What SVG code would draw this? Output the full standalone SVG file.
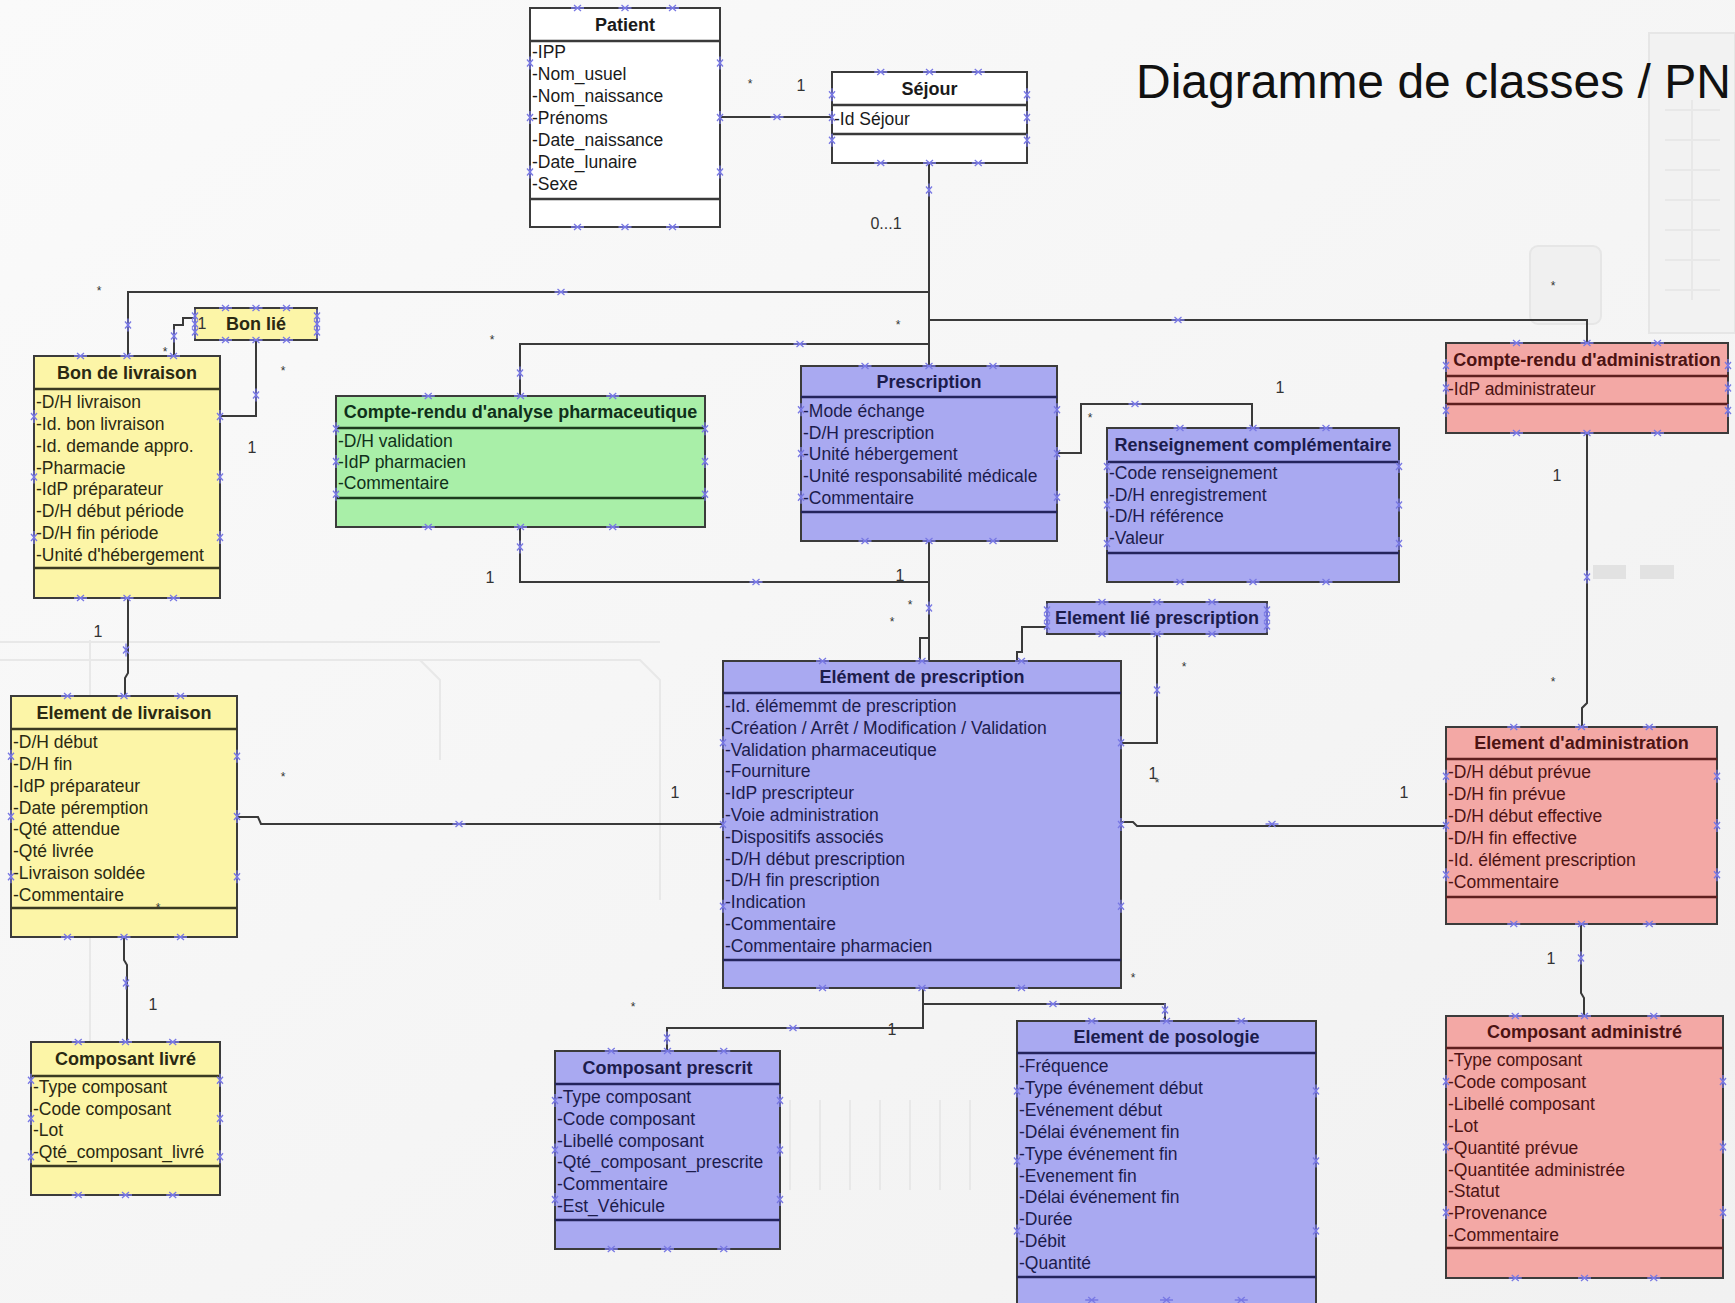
<svg xmlns="http://www.w3.org/2000/svg" width="1735" height="1303" viewBox="0 0 1735 1303">
<defs>
<style>
.bx{stroke:#3b3b3b;stroke-width:2}
.w{fill:#ffffff}.y{fill:#fcf5a7}.g{fill:#a9efa8}.b{fill:#a9a9f1}.r{fill:#f3a8a5}
.dv{stroke-width:2.5;fill:none}
.dw{stroke:#3a3a3a}.dy{stroke:#3a3a22}.dg{stroke:#1e3b1e}.db{stroke:#24245c}.dr{stroke:#5e1f1f}
.h{font-family:"Liberation Sans",Arial,sans-serif;font-size:18px;font-weight:bold;text-anchor:middle}
.a{font-family:"Liberation Sans",Arial,sans-serif;font-size:17.5px}
.tw{fill:#1a1a1a}.ty{fill:#2a2912}.tg{fill:#10301a}.tb{fill:#1c1c4c}.tr{fill:#4c1313}
.hh{fill:none;stroke:none;marker-start:url(#hx);marker-mid:url(#hx);marker-end:url(#hx)}
.vv{fill:none;stroke:none;marker-start:url(#vx);marker-mid:url(#vx);marker-end:url(#vx)}
.cn{fill:none;stroke:#3a3a3a;stroke-width:2}
.m{font-family:"Liberation Sans",Arial,sans-serif;font-size:16px;fill:#333;text-anchor:middle}
.s{font-family:"Liberation Sans",Arial,sans-serif;font-size:12px;fill:#333;text-anchor:middle}
.deco{fill:none;stroke:#e8e8e8;stroke-width:2}
</style>
<linearGradient id="bg" x1="0" y1="0" x2="1" y2="1">
<stop offset="0" stop-color="#fafafa"/>
<stop offset="1" stop-color="#f1f1f1"/>
</linearGradient>
<marker id="hx" markerWidth="14" markerHeight="10" refX="7" refY="5" orient="0" markerUnits="userSpaceOnUse" viewBox="0 0 14 10"><path d="M3.5,2 L10.5,8 M3.5,8 L10.5,2 M0.5,5 H13.5" stroke="#7878e4" stroke-width="1.3" fill="none"/></marker>
<marker id="vx" markerWidth="14" markerHeight="10" refX="7" refY="5" orient="90" markerUnits="userSpaceOnUse" viewBox="0 0 14 10"><path d="M3.5,2 L10.5,8 M3.5,8 L10.5,2 M0.5,5 H13.5" stroke="#7878e4" stroke-width="1.3" fill="none"/></marker>
</defs>

<g id="background">
<rect width="1735" height="1303" fill="url(#bg)"/>
<path class="deco" d="M0,642 H660 M0,660 H640 L660,680 V900 M90,640 V1100 M230,660 H420 L440,680 V760"/>
<path class="deco" d="M760,1100 V1190 M790,1100 V1190 M820,1100 V1190 M850,1100 V1190 M880,1100 V1190 M910,1100 V1190 M940,1100 V1190 M970,1100 V1190"/>
<rect x="1649" y="33" width="86" height="300" fill="#f2f2f2" stroke="#e6e6e6" stroke-width="2"/>
<path d="M1665,110 H1720 M1665,140 H1720 M1665,170 H1720 M1665,200 H1720 M1665,230 H1720 M1665,260 H1720 M1665,290 H1720 M1692,100 V300" stroke="#e8e8e8" stroke-width="2" fill="none"/>
<rect x="1530" y="246" width="71" height="78" rx="8" fill="#f0f0f0" stroke="#e6e6e6" stroke-width="2"/>
<rect x="1593" y="565" width="33" height="14" fill="#e2e2e2"/>
<rect x="1640" y="565" width="34" height="14" fill="#e2e2e2"/>
</g>

<text x="1136" y="98" font-family="Liberation Sans, Arial, sans-serif" font-size="48" fill="#111">Diagramme de classes / PN</text>

<g id="connectors">
<path class="cn" d="M720,117 H832"/>
<path class="cn" d="M929,163 V366"/>
<path class="cn" d="M929,292 H128 V356"/>
<path class="cn" d="M929,320 H1587 V343"/>
<path class="cn" d="M929,344 H520 V396"/>
<path class="cn" d="M174,356 V325 H183 V318 H195"/>
<path class="cn" d="M220,416 H256 V340"/>
<path class="cn" d="M128,598 V673 L125,678 V696"/>
<path class="cn" d="M124,937 V960 L127,965 V1042"/>
<path class="cn" d="M237,817 H258 L261,824 H723"/>
<path class="cn" d="M929,541 V661"/>
<path class="cn" d="M520,527 V582 H929 V638 H920 V661"/>
<path class="cn" d="M1057,453 H1081 V404 H1252 V428"/>
<path class="cn" d="M1017,661 V652 H1022 V627 H1047"/>
<path class="cn" d="M1157,634 V743 H1121"/>
<path class="cn" d="M1121,822 H1133 L1137,826 H1446"/>
<path class="cn" d="M1587,433 V703 L1582,708 V727"/>
<path class="cn" d="M1581,924 V993 L1584,998 V1016"/>
<path class="cn" d="M923,988 V1028 H667 V1051"/>
<path class="cn" d="M923,1004 H1165 V1021"/>
<polyline class="hh" points="777,117 561,292 1178,320 800,344 756,582 1135,404 459,824 1272,824 793,1028 1053,1004"/>
<polyline class="vv" points="929,190 128,325 520,373 520,547 929,608 126,650 126,983 1587,577 1581,958 667,1038 1165,1010 1157,690 174,336 256,395"/>
</g>

<g id="patient">
<rect class="bx w" x="530" y="8" width="190" height="219"/>
<path class="dv dw" d="M530,41H720M530,199H720"/>
<text class="h tw" x="625" y="30.5">Patient</text>
<text class="a tw"><tspan x="532" y="58">-IPP</tspan><tspan x="532" y="80">-Nom_usuel</tspan><tspan x="532" y="102">-Nom_naissance</tspan><tspan x="532" y="124">-Prénoms</tspan><tspan x="532" y="146">-Date_naissance</tspan><tspan x="532" y="168">-Date_lunaire</tspan><tspan x="532" y="190">-Sexe</tspan></text>
<polyline class="hh" points="577.5,8 625,8 672.5,8 577.5,227 625,227 672.5,227"/>
<polyline class="vv" points="530,63 530,117.5 530,172 720,63 720,117.5 720,172"/>
</g>

<g id="sejour">
<rect class="bx w" x="832" y="72" width="195" height="91"/>
<path class="dv dw" d="M832,105H1027M832,134H1027"/>
<text class="h tw" x="929.5" y="94.5">Séjour</text>
<text class="a tw"><tspan x="834" y="125">-Id Séjour</tspan></text>
<polyline class="hh" points="880.75,72 929.5,72 978.25,72 880.75,163 929.5,163 978.25,163"/>
<polyline class="vv" points="832,94.75 832,117.5 832,140.25 1027,94.75 1027,117.5 1027,140.25"/>
</g>

<g id="bon-lie">
<rect class="bx y" x="195" y="308" width="122" height="32"/>
<text class="h ty" x="256" y="330">Bon lié</text>
<polyline class="hh" points="225.5,308 256,308 286.5,308 225.5,340 256,340 286.5,340"/>
<polyline class="vv" points="195,316 195,324 195,332 317,316 317,324 317,332"/>
</g>

<g id="bon-de-livraison">
<rect class="bx y" x="34" y="356" width="186" height="242"/>
<path class="dv dy" d="M34,389H220M34,568H220"/>
<text class="h ty" x="127" y="378.5">Bon de livraison</text>
<text class="a ty"><tspan x="36" y="408">-D/H livraison</tspan><tspan x="36" y="430">-Id. bon livraison</tspan><tspan x="36" y="451.7">-Id. demande appro.</tspan><tspan x="36" y="473.6">-Pharmacie</tspan><tspan x="36" y="495.4">-IdP préparateur</tspan><tspan x="36" y="517.3">-D/H début période</tspan><tspan x="36" y="539.1">-D/H fin période</tspan><tspan x="36" y="561">-Unité d'hébergement</tspan></text>
<polyline class="hh" points="80.5,356 127,356 173.5,356 80.5,598 127,598 173.5,598"/>
<polyline class="vv" points="34,416.5 34,477 34,537.5 220,416.5 220,477 220,537.5"/>
</g>

<g id="cr-analyse">
<rect class="bx g" x="336" y="396" width="369" height="131"/>
<path class="dv dg" d="M336,428H705M336,498H705"/>
<text class="h tg" x="520.5" y="418">Compte-rendu d'analyse pharmaceutique</text>
<text class="a tg"><tspan x="338" y="447">-D/H validation</tspan><tspan x="338" y="468">-IdP pharmacien</tspan><tspan x="338" y="489">-Commentaire</tspan></text>
<polyline class="hh" points="428.25,396 520.5,396 612.75,396 428.25,527 520.5,527 612.75,527"/>
<polyline class="vv" points="336,428.75 336,461.5 336,494.25 705,428.75 705,461.5 705,494.25"/>
</g>

<g id="prescription">
<rect class="bx b" x="801" y="366" width="256" height="175"/>
<path class="dv db" d="M801,397H1057M801,512H1057"/>
<text class="h tb" x="929" y="387.5">Prescription</text>
<text class="a tb"><tspan x="803" y="417">-Mode échange</tspan><tspan x="803" y="438.5">-D/H prescription</tspan><tspan x="803" y="460">-Unité hébergement</tspan><tspan x="803" y="482">-Unité responsabilité médicale</tspan><tspan x="803" y="504">-Commentaire</tspan></text>
<polyline class="hh" points="865,366 929,366 993,366 865,541 929,541 993,541"/>
<polyline class="vv" points="801,409.75 801,453.5 801,497.25 1057,409.75 1057,453.5 1057,497.25"/>
</g>

<g id="renseignement">
<rect class="bx b" x="1107" y="428" width="292" height="154"/>
<path class="dv db" d="M1107,462H1399M1107,553H1399"/>
<text class="h tb" x="1253" y="451">Renseignement complémentaire</text>
<text class="a tb"><tspan x="1109" y="479">-Code renseignement</tspan><tspan x="1109" y="500.5">-D/H enregistrement</tspan><tspan x="1109" y="522">-D/H référence</tspan><tspan x="1109" y="544">-Valeur</tspan></text>
<polyline class="hh" points="1180,428 1253,428 1326,428 1180,582 1253,582 1326,582"/>
<polyline class="vv" points="1107,466.5 1107,505 1107,543.5 1399,466.5 1399,505 1399,543.5"/>
</g>

<g id="cr-administration">
<rect class="bx r" x="1446" y="343" width="282" height="90"/>
<path class="dv dr" d="M1446,376H1728M1446,404H1728"/>
<text class="h tr" x="1587" y="365.5">Compte-rendu d'administration</text>
<text class="a tr"><tspan x="1448" y="395">-IdP administrateur</tspan></text>
<polyline class="hh" points="1516.5,343 1587,343 1657.5,343 1516.5,433 1587,433 1657.5,433"/>
<polyline class="vv" points="1446,365.5 1446,388 1446,410.5 1728,365.5 1728,388 1728,410.5"/>
</g>

<g id="element-lie-prescription">
<rect class="bx b" x="1047" y="602" width="220" height="32"/>
<text class="h tb" x="1157" y="624">Element lié prescription</text>
<polyline class="hh" points="1102,602 1157,602 1212,602 1102,634 1157,634 1212,634"/>
<polyline class="vv" points="1047,610 1047,618 1047,626 1267,610 1267,618 1267,626"/>
</g>

<g id="element-de-prescription">
<rect class="bx b" x="723" y="661" width="398" height="327"/>
<path class="dv db" d="M723,693H1121M723,960H1121"/>
<text class="h tb" x="922" y="683">Elément de prescription</text>
<text class="a tb"><tspan x="725" y="712">-Id. élémemmt de prescription</tspan><tspan x="725" y="733.8">-Création / Arrêt / Modification / Validation</tspan><tspan x="725" y="755.6">-Validation pharmaceutique</tspan><tspan x="725" y="777.4">-Fourniture</tspan><tspan x="725" y="799.2">-IdP prescripteur</tspan><tspan x="725" y="821">-Voie administration</tspan><tspan x="725" y="842.8">-Dispositifs associés</tspan><tspan x="725" y="864.6">-D/H début prescription</tspan><tspan x="725" y="886.4">-D/H fin prescription</tspan><tspan x="725" y="908.2">-Indication</tspan><tspan x="725" y="930">-Commentaire</tspan><tspan x="725" y="951.8">-Commentaire pharmacien</tspan></text>
<polyline class="hh" points="822.5,661 922,661 1021.5,661 822.5,988 922,988 1021.5,988"/>
<polyline class="vv" points="723,742.75 723,824.5 723,906.25 1121,742.75 1121,824.5 1121,906.25"/>
</g>

<g id="element-de-livraison">
<rect class="bx y" x="11" y="696" width="226" height="241"/>
<path class="dv dy" d="M11,729H237M11,908H237"/>
<text class="h ty" x="124" y="718.5">Element de livraison</text>
<text class="a ty"><tspan x="13" y="748">-D/H début</tspan><tspan x="13" y="769.9">-D/H fin</tspan><tspan x="13" y="791.7">-IdP préparateur</tspan><tspan x="13" y="813.6">-Date péremption</tspan><tspan x="13" y="835.4">-Qté attendue</tspan><tspan x="13" y="857.3">-Qté livrée</tspan><tspan x="13" y="879.1">-Livraison soldée</tspan><tspan x="13" y="901">-Commentaire</tspan></text>
<polyline class="hh" points="67.5,696 124,696 180.5,696 67.5,937 124,937 180.5,937"/>
<polyline class="vv" points="11,756.25 11,816.5 11,876.75 237,756.25 237,816.5 237,876.75"/>
</g>

<g id="composant-livre">
<rect class="bx y" x="31" y="1042" width="189" height="153"/>
<path class="dv dy" d="M31,1076H220M31,1166H220"/>
<text class="h ty" x="125.5" y="1065">Composant livré</text>
<text class="a ty"><tspan x="33" y="1093">-Type composant</tspan><tspan x="33" y="1114.7">-Code composant</tspan><tspan x="33" y="1136.3">-Lot</tspan><tspan x="33" y="1158">-Qté_composant_livré</tspan></text>
<polyline class="hh" points="78.25,1042 125.5,1042 172.75,1042 78.25,1195 125.5,1195 172.75,1195"/>
<polyline class="vv" points="31,1080.25 31,1118.5 31,1156.75 220,1080.25 220,1118.5 220,1156.75"/>
</g>

<g id="element-administration">
<rect class="bx r" x="1446" y="727" width="271" height="197"/>
<path class="dv dr" d="M1446,759H1717M1446,897H1717"/>
<text class="h tr" x="1581.5" y="749">Element d'administration</text>
<text class="a tr"><tspan x="1448" y="778">-D/H début prévue</tspan><tspan x="1448" y="800">-D/H fin prévue</tspan><tspan x="1448" y="822">-D/H début effective</tspan><tspan x="1448" y="844">-D/H fin effective</tspan><tspan x="1448" y="866">-Id. élément prescription</tspan><tspan x="1448" y="888">-Commentaire</tspan></text>
<polyline class="hh" points="1513.75,727 1581.5,727 1649.25,727 1513.75,924 1581.5,924 1649.25,924"/>
<polyline class="vv" points="1446,776.25 1446,825.5 1446,874.75 1717,776.25 1717,825.5 1717,874.75"/>
</g>

<g id="composant-administre">
<rect class="bx r" x="1446" y="1016" width="277" height="262"/>
<path class="dv dr" d="M1446,1048H1723M1446,1248H1723"/>
<text class="h tr" x="1584.5" y="1038">Composant administré</text>
<text class="a tr"><tspan x="1448" y="1066">-Type composant</tspan><tspan x="1448" y="1087.9">-Code composant</tspan><tspan x="1448" y="1109.8">-Libellé composant</tspan><tspan x="1448" y="1131.7">-Lot</tspan><tspan x="1448" y="1153.6">-Quantité prévue</tspan><tspan x="1448" y="1175.5">-Quantitée administrée</tspan><tspan x="1448" y="1197.4">-Statut</tspan><tspan x="1448" y="1219.3">-Provenance</tspan><tspan x="1448" y="1241.2">-Commentaire</tspan></text>
<polyline class="hh" points="1515.25,1016 1584.5,1016 1653.75,1016 1515.25,1278 1584.5,1278 1653.75,1278"/>
<polyline class="vv" points="1446,1081.5 1446,1147 1446,1212.5 1723,1081.5 1723,1147 1723,1212.5"/>
</g>

<g id="composant-prescrit">
<rect class="bx b" x="555" y="1051" width="225" height="198"/>
<path class="dv db" d="M555,1084H780M555,1220H780"/>
<text class="h tb" x="667.5" y="1073.5">Composant prescrit</text>
<text class="a tb"><tspan x="557" y="1103">-Type composant</tspan><tspan x="557" y="1124.8">-Code composant</tspan><tspan x="557" y="1146.6">-Libellé composant</tspan><tspan x="557" y="1168.4">-Qté_composant_prescrite</tspan><tspan x="557" y="1190.2">-Commentaire</tspan><tspan x="557" y="1212">-Est_Véhicule</tspan></text>
<polyline class="hh" points="611.25,1051 667.5,1051 723.75,1051 611.25,1249 667.5,1249 723.75,1249"/>
<polyline class="vv" points="555,1100.5 555,1150 555,1199.5 780,1100.5 780,1150 780,1199.5"/>
</g>

<g id="element-de-posologie">
<rect class="bx b" x="1017" y="1021" width="299" height="284"/>
<path class="dv db" d="M1017,1053H1316M1017,1277H1316"/>
<text class="h tb" x="1166.5" y="1043">Element de posologie</text>
<text class="a tb"><tspan x="1019" y="1072">-Fréquence</tspan><tspan x="1019" y="1093.9">-Type événement début</tspan><tspan x="1019" y="1115.8">-Evénement début</tspan><tspan x="1019" y="1137.7">-Délai événement fin</tspan><tspan x="1019" y="1159.6">-Type événement fin</tspan><tspan x="1019" y="1181.5">-Evenement fin</tspan><tspan x="1019" y="1203.4">-Délai événement fin</tspan><tspan x="1019" y="1225.3">-Durée</tspan><tspan x="1019" y="1247.2">-Débit</tspan><tspan x="1019" y="1269.1">-Quantité</tspan></text>
<polyline class="hh" points="1091.75,1021 1166.5,1021 1241.25,1021 1091.75,1300 1166.5,1300 1241.25,1300"/>
<polyline class="vv" points="1017,1091 1017,1161 1017,1231 1316,1091 1316,1161 1316,1231"/>
</g>

<g id="labels">
<text class="s" x="750" y="88">*</text>
<text class="m" x="801" y="91">1</text>
<text class="m" x="886" y="229">0...1</text>
<text class="s" x="99" y="295">*</text>
<text class="s" x="165" y="356">*</text>
<text class="s" x="283" y="375">*</text>
<text class="s" x="492" y="344">*</text>
<text class="s" x="898" y="329">*</text>
<text class="s" x="1553" y="290">*</text>
<text class="s" x="1090" y="422">*</text>
<text class="s" x="910" y="609">*</text>
<text class="s" x="892" y="626">*</text>
<text class="s" x="283" y="781">*</text>
<text class="s" x="1157" y="787">*</text>
<text class="s" x="1184" y="671">*</text>
<text class="s" x="1553" y="686">*</text>
<text class="s" x="633" y="1011">*</text>
<text class="s" x="1133" y="982">*</text>
<text class="s" x="158" y="912">*</text>
<text class="m" x="202" y="329">1</text>
<text class="m" x="252" y="453">1</text>
<text class="m" x="98" y="637">1</text>
<text class="m" x="153" y="1010">1</text>
<text class="m" x="490" y="583">1</text>
<text class="m" x="900" y="581">1</text>
<text class="m" x="1280" y="393">1</text>
<text class="m" x="675" y="798">1</text>
<text class="m" x="1153" y="779">1</text>
<text class="m" x="1404" y="798">1</text>
<text class="m" x="1557" y="481">1</text>
<text class="m" x="1551" y="964">1</text>
<text class="m" x="892" y="1035">1</text>
</g>
</svg>
